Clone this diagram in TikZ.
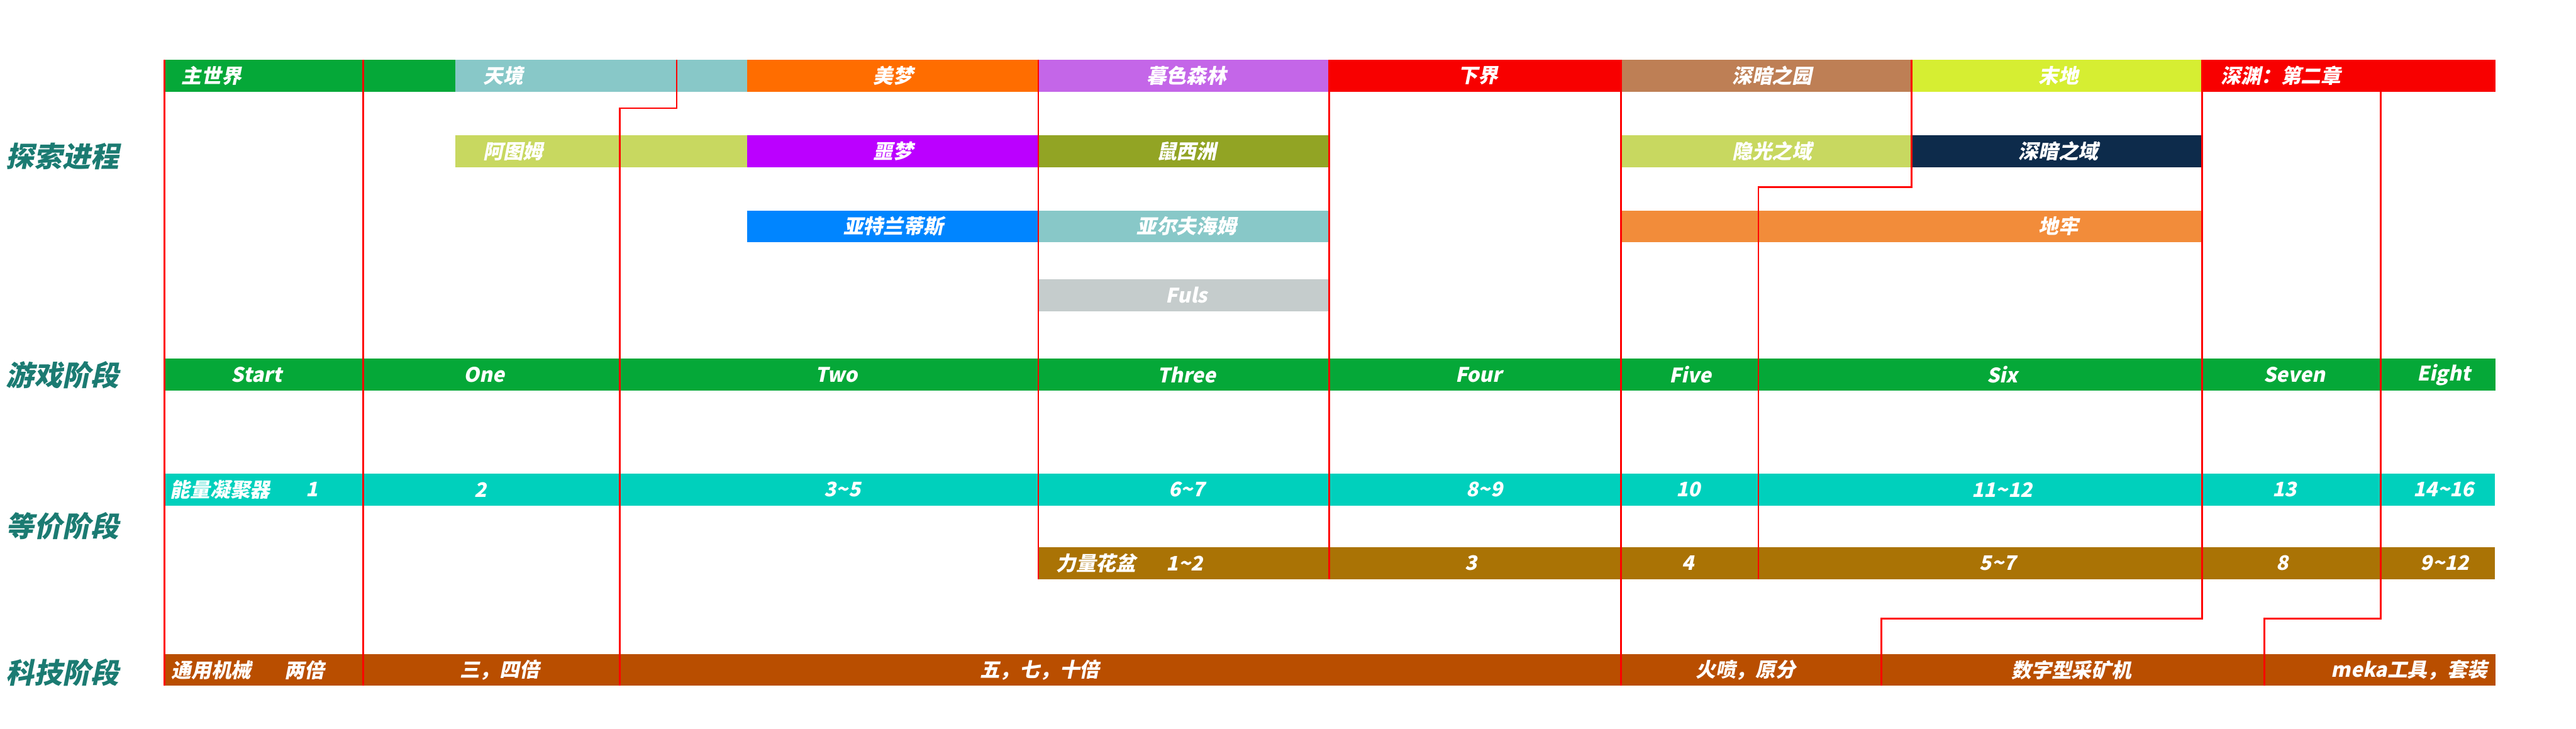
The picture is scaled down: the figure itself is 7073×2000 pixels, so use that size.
\documentclass[tikz,border=0pt]{standalone}
\usepackage{fontspec}
\newfontfamily\cjk{Noto Sans CJK SC}[FakeSlant=0.2, BoldFeatures={FakeSlant=0.2}]
\definecolor{cMain}{HTML}{05A838}
\definecolor{cSky}{HTML}{88C8C8}
\definecolor{cDream}{HTML}{FF6D00}
\definecolor{cTwi}{HTML}{C466E8}
\definecolor{cRed}{HTML}{F80000}
\definecolor{cDeepG}{HTML}{BE7F55}
\definecolor{cEnd}{HTML}{D6EE32}
\definecolor{cAtum}{HTML}{C8D860}
\definecolor{cNight}{HTML}{BB00FF}
\definecolor{cRat}{HTML}{92A424}
\definecolor{cDeepD}{HTML}{0D2B4B}
\definecolor{cAtl}{HTML}{0085FF}
\definecolor{cDung}{HTML}{F28C3A}
\definecolor{cFuls}{HTML}{C5CCCC}
\definecolor{cTeal}{HTML}{00D0BC}
\definecolor{cPot}{HTML}{AA7305}
\definecolor{cTech}{HTML}{B94E00}
\definecolor{cSide}{HTML}{1B7B72}
\tikzset{
  lab/.style={text=white, font=\cjk\bfseries\fontsize{15.6}{18}\selectfont, inner sep=0pt},
  side/.style={text=cSide, font=\cjk\bfseries\fontsize{22}{26}\selectfont, inner sep=0pt},
  divider/.style={draw=red, line width=0.05cm}
}
\begin{document}
\begin{tikzpicture}[x=0.01cm, y=-0.01cm]
\useasboundingbox[fill=white] (0,0) rectangle (7073,2000);
% ---------- bars row 1 ----------
\fill[cMain]   (451,164) rectangle (1251,252);
\fill[cSky]    (1251,164) rectangle (2051,252);
\fill[cDream]  (2051,164) rectangle (2851,252);
\fill[cTwi]    (2851,164) rectangle (3651,252);
\fill[cRed]    (3651,164) rectangle (4451,252);
\fill[cDeepG]  (4451,164) rectangle (5249,252);
\fill[cEnd]    (5249,164) rectangle (6048,252);
\fill[cRed]    (6048,164) rectangle (6852,252);
% ---------- row 2 ----------
\fill[cAtum]   (1251,371) rectangle (2051,459);
\fill[cNight]  (2051,371) rectangle (2851,459);
\fill[cRat]    (2851,371) rectangle (3651,459);
\fill[cAtum]   (4451,371) rectangle (5249,459);
\fill[cDeepD]  (5249,371) rectangle (6048,459);
% ---------- row 3 ----------
\fill[cAtl]    (2051,578) rectangle (2851,665);
\fill[cSky]    (2851,578) rectangle (3651,665);
\fill[cDung]   (4451,578) rectangle (6048,665);
% ---------- row 4 ----------
\fill[cFuls]   (2851,767) rectangle (3651,854);
% ---------- stage rows ----------
\fill[cMain]   (451,985) rectangle (6852,1073);
\fill[cTeal]   (451,1300) rectangle (6850,1388);
\fill[cPot]    (2851,1503) rectangle (6850,1590);
\fill[cTech]   (451,1796) rectangle (6852,1883);
% ---------- dividers ----------
\draw[divider] (451,164) -- (451,1883);
\draw[divider] (997,164) -- (997,1883);
\draw[divider] (1858,164) -- (1858,297) -- (1702,297) -- (1702,1883);
\draw[divider] (2851,164) -- (2851,1590);
\draw[divider] (3650,164) -- (3650,1590);
\draw[divider] (4451,164) -- (4451,1883);
\draw[divider] (5249,164) -- (5249,514) -- (4828,514) -- (4828,1590);
\draw[divider] (6046,164) -- (6046,1698) -- (5166,1698) -- (5166,1883);
\draw[divider] (6536,252) -- (6536,1698) -- (6218,1698) -- (6218,1883);
% ---------- side labels ----------
\node[side] (s1) at (172,430) {探索进程};
\node[side] (s2) at (172,1030) {游戏阶段};
\node[side] (s3) at (172,1444) {等价阶段};
\node[side] (s4) at (172,1846) {科技阶段};
% ---------- row 1 labels ----------
\node[lab, anchor=west] (r1a) at (498,208) {主世界};
\node[lab, anchor=west] (r1b) at (1326,208) {天境};
\node[lab] (r1c) at (2453,208) {美梦};
\node[lab] (r1d) at (3258,208) {暮色森林};
\node[lab] (r1e) at (4058,208) {下界};
\node[lab] (r1f) at (4866,208) {深暗之园};
\node[lab] (r1g) at (5652,208) {末地};
\node[lab, anchor=west] (r1h) at (6098,208) {深渊：第二章};
% ---------- row 2 labels ----------
\node[lab, anchor=west] (r2a) at (1326,415) {阿图姆};
\node[lab] (r2b) at (2453,415) {噩梦};
\node[lab] (r2c) at (3258,415) {鼠西洲};
\node[lab] (r2d) at (4866,415) {隐光之域};
\node[lab] (r2e) at (5652,415) {深暗之域};
% ---------- row 3 labels ----------
\node[lab] (r3a) at (2453,621) {亚特兰蒂斯};
\node[lab] (r3b) at (3258,621) {亚尔夫海姆};
\node[lab] (r3c) at (5652,621) {地牢};
% ---------- row 4 ----------
\node[lab] (r4a) at (3258,810) {Fuls};
% ---------- game stages ----------
\node[lab] (g0) at (705,1029) {Start};
\node[lab] (g1) at (1330,1029) {One};
\node[lab] (g2) at (2297,1029) {Two};
\node[lab] (g3) at (3258,1029) {Three};
\node[lab] (g4) at (4060,1029) {Four};
\node[lab] (g5) at (4641,1029) {Five};
\node[lab] (g6) at (5498,1029) {Six};
\node[lab] (g7) at (6300,1029) {Seven};
\node[lab] (g8) at (6710,1029) {Eight};
% ---------- energy condenser ----------
\node[lab, anchor=west] (t0) at (467,1344) {能量凝聚器};
\node[lab] (t1) at (857,1344) {1};
\node[lab] (t2) at (1320,1344) {2};
\node[lab] (t3) at (2313,1344) {3\textasciitilde5};
\node[lab] (t4) at (3259,1344) {6\textasciitilde7};
\node[lab] (t5) at (4076,1344) {8\textasciitilde9};
\node[lab] (t6) at (4636,1344) {10};
\node[lab] (t7) at (5497,1344) {11\textasciitilde12};
\node[lab] (t8) at (6273,1344) {13};
\node[lab] (t9) at (6710,1344) {14\textasciitilde16};
% ---------- power flower pot ----------
\node[lab, anchor=west] (p0) at (2899,1546) {力量花盆};
\node[lab] (p1) at (3253,1546) {1\textasciitilde2};
\node[lab] (p2) at (4040,1546) {3};
\node[lab] (p3) at (4635,1546) {4};
\node[lab] (p4) at (5486,1546) {5\textasciitilde7};
\node[lab] (p5) at (6266,1546) {8};
\node[lab] (p6) at (6713,1546) {9\textasciitilde12};
% ---------- tech ----------
\node[lab, anchor=west] (k0) at (470,1840) {通用机械};
\node[lab] (k1) at (837,1840) {两倍};
\node[lab] (k2) at (1372,1840) {三，四倍};
\node[lab] (k3) at (2855,1840) {五，七，十倍};
\node[lab] (k4) at (4793,1840) {火喷，原分};
\node[lab] (k5) at (5688,1840) {数字型采矿机};
\node[lab, anchor=east] (k6) at (6830,1840) {meka工具，套装};
\end{tikzpicture}
\end{document}
